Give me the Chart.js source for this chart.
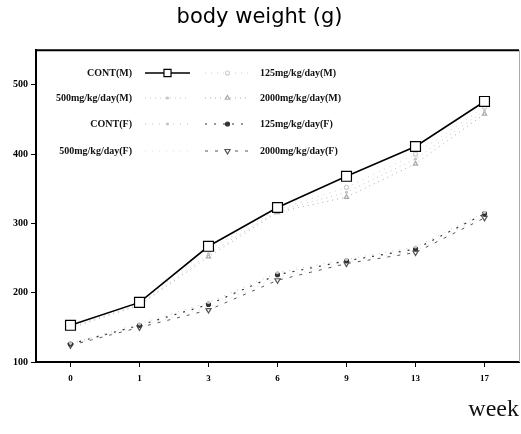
<!DOCTYPE html>
<html>
<head>
<meta charset="utf-8">
<script src="https://cdn.jsdelivr.net/npm/chart.js@4"></script>
<style>
  html, body { margin: 0; padding: 0; background: #fff; overflow: hidden; }
  canvas { display: block; }
</style>
</head>
<body>
<canvas id="bw" width="521" height="434"></canvas>
<script>
// body weight by week
const weeks = ['0', '1', '3', '6', '9', '13', '17'];

const contM = [153, 186, 267, 323, 368, 411, 476];
const m125 = [152, 185, 262, 320, 352, 400, 468];
const m500 = [150, 183, 256, 318, 345, 393, 463];
const m2000 = [149, 182, 252, 316, 338, 386, 458];

const contF = [127, 155, 186, 229, 248, 266, 316];
const f125 = [126, 153, 183, 226, 246, 263, 314];
const f500 = [125, 151, 179, 222, 244, 260, 311];
const f2000 = [124, 150, 175, 218, 242, 258, 308];

const yTicks = [100, 200, 300, 400, 500];

const grey = '#c4c4c4';

function series(label, data, color, dash, style, radius, fill, width, rot) {
  return {
    label: label,
    data: data,
    borderColor: color,
    borderWidth: width,
    borderDash: dash,
    pointStyle: style,
    pointRadius: radius,
    pointBorderColor: color,
    pointBackgroundColor: fill,
    pointBorderWidth: 1.2,
    pointRotation: rot || 0,
    tension: 0
  };
}

const datasets = [
  series('CONT(M)', contM, '#000', [], 'rect', 7, '#fff', 1.6),
  series('125mg/kg/day(M)', m125, '#d0d0d0', [1, 5], 'circle', 2, '#fff', 1),
  series('500mg/kg/day(M)', m500, grey, [1, 4], 'circle', 1, grey, 1),
  series('2000mg/kg/day(M)', m2000, '#aaa', [1, 4], 'triangle', 2.5, '#fff', 1),
  series('CONT(F)', contF, grey, [1, 6], 'circle', 1, grey, 1),
  series('125mg/kg/day(F)', f125, '#333', [2, 7], 'circle', 2, '#333', 1.2),
  series('500mg/kg/day(F)', f500, '#ddd', [1, 6], 'circle', 0, '#ddd', 1),
  series('2000mg/kg/day(F)', f2000, '#555', [3, 7], 'triangle', 3, '#fff', 1, 180)
];

// top + right edge of the frame
const frame = {
  id: 'frame',
  afterDraw(chart) {
    const a = chart.chartArea, c = chart.ctx;
    c.save();
    c.strokeStyle = '#000';
    c.lineWidth = 2;
    c.beginPath();
    c.moveTo(a.left, a.top);
    c.lineTo(a.right, a.top);
    c.stroke();
    c.strokeStyle = '#aaa';
    c.lineWidth = 1;
    c.beginPath();
    c.moveTo(a.right + 0.5, a.top);
    c.lineTo(a.right + 0.5, a.bottom);
    c.stroke();
    c.restore();
  }
};

// two-column legend inside the plot
const legendRows = [73, 98, 124, 151];
const boxLegend = {
  id: 'boxLegend',
  afterDraw(chart) {
    const c = chart.ctx;
    c.save();
    c.font = 'bold 10px "Liberation Serif"';
    c.textBaseline = 'middle';
    chart.data.datasets.forEach(function (ds, i) {
      const y = legendRows[Math.floor(i / 2)];
      const left = i % 2 === 0;
      const x0 = left ? 145 : 205;
      const x1 = left ? 190 : 250;
      c.strokeStyle = ds.borderColor;
      c.lineWidth = ds.borderWidth;
      c.setLineDash(ds.borderDash);
      c.beginPath();
      c.moveTo(x0, y);
      c.lineTo(x1, y);
      c.stroke();
      c.setLineDash([]);
      if (ds.pointRadius > 0) {
        c.fillStyle = ds.pointBackgroundColor;
        c.strokeStyle = ds.pointBorderColor;
        c.lineWidth = 1.2;
        Chart.helpers.drawPoint(c, {
          pointStyle: ds.pointStyle,
          radius: Math.min(ds.pointRadius, 5),
          borderWidth: 1.2,
          rotation: ds.pointRotation
        }, (x0 + x1) / 2, y);
      }
      c.fillStyle = '#111';
      if (left) {
        c.textAlign = 'right';
        c.fillText(ds.label, 132, y);
      } else {
        c.textAlign = 'left';
        c.fillText(ds.label, 260, y);
      }
    });
    c.restore();
  }
};

Chart.defaults.font.family = '"Liberation Serif"';
Chart.defaults.color = '#000';

new Chart(document.getElementById('bw'), {
  type: 'line',
  data: { labels: weeks, datasets: datasets },
  options: {
    responsive: false,
    animation: false,
    layout: { autoPadding: false, padding: { left: 0, right: 2, top: 0, bottom: 0 } },
    plugins: {
      legend: { display: false },
      tooltip: { enabled: false },
      title: {
        display: true,
        text: 'body weight (g)',
        color: '#000',
        font: { family: '"DejaVu Sans"', size: 21, weight: 'normal' },
        padding: { top: 5, bottom: 20 }
      }
    },
    scales: {
      x: {
        offset: true,
        afterFit(s) { s.height = 72; },
        grid: { offset: false, drawOnChartArea: false, tickLength: 5, color: '#000' },
        border: { color: '#000', width: 2 },
        ticks: { font: { size: 9, weight: 'bold' }, padding: 6, color: '#000' },
        title: {
          display: true,
          text: 'week',
          align: 'end',
          color: '#111',
          font: { family: '"Liberation Serif"', size: 24 },
          padding: { top: 0, bottom: 10 }
        }
      },
      y: {
        min: 100,
        max: 550,
        afterFit(s) { s.width = 36; },
        afterBuildTicks(s) { s.ticks = yTicks.map(v => ({ value: v })); },
        grid: { drawOnChartArea: false, tickLength: 5, color: '#000' },
        border: { color: '#000', width: 2 },
        ticks: { font: { size: 10, weight: 'bold' }, padding: 3, color: '#000' }
      }
    }
  },
  plugins: [frame, boxLegend]
});
</script>
</body>
</html>
